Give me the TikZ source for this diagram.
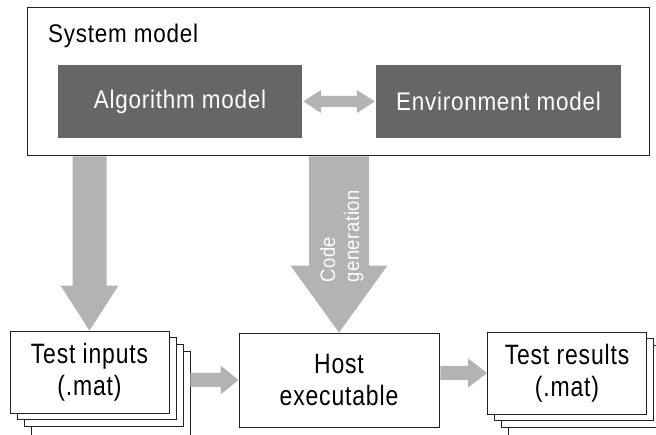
\documentclass[tikz,border=0pt]{standalone}
\usepackage{fontspec}
\setmainfont{Liberation Sans}[FakeStretch=0.88,LetterSpace=3]
\newfontfamily\tallfont{Liberation Sans}[FakeStretch=0.82,LetterSpace=3]
\usetikzlibrary{calc}
\definecolor{arrowgray}{HTML}{B3B3B3}
\definecolor{darkbox}{HTML}{666666}
\definecolor{linegray}{HTML}{222222}
\tikzset{
  arr/.style={fill=arrowgray},
  sysbox/.style={draw=linegray,line width=1pt,fill=white,minimum width=622pt,minimum height=148pt,inner sep=0pt},
  darkbox/.style={fill=darkbox,text=white,minimum width=244pt,minimum height=73pt,inner sep=0pt,font=\fontsize{25.5}{29}\selectfont},
  pagebox/.style={draw=linegray,line width=0.9pt,fill=white,minimum width=159pt,minimum height=82pt,inner sep=0pt,align=center,font=\tallfont\fontsize{28}{32}\selectfont},
  hostbox/.style={draw=linegray,line width=0.9pt,fill=white,minimum width=200pt,minimum height=94pt,inner sep=0pt,align=center,font=\tallfont\fontsize{28}{32}\selectfont},
  titletext/.style={inner sep=0pt,anchor=base west,font=\fontsize{25.5}{30}\selectfont},
  codetext/.style={inner sep=0pt,anchor=base west,rotate=90,text=white,font=\fontsize{21}{25}\selectfont}
}
% fat arrow pointing down: #1 from, #2 tip, #3 shaft half width, #4 head half width, #5 head length
\newcommand\fatdown[5]{\fill[arr] let \p1=(#1), \p2=(#2) in
  (\x2,\y2) -- (\x2-#4,\y2+#5) -- (\x2-#3,\y2+#5) -- (\x2-#3,\y1) -- (\x2+#3,\y1)
  -- (\x2+#3,\y2+#5) -- (\x2+#4,\y2+#5) -- cycle;}
% fat arrow pointing right
\newcommand\fatright[5]{\fill[arr] let \p1=(#1), \p2=(#2) in
  (\x2,\y2) -- (\x2-#5,\y2+#4) -- (\x2-#5,\y2+#3) -- (\x1,\y2+#3) -- (\x1,\y2-#3)
  -- (\x2-#5,\y2-#3) -- (\x2-#5,\y2-#4) -- cycle;}
% double-headed fat arrow
\newcommand\fatboth[5]{\fill[arr] let \p1=(#1), \p2=(#2) in
  (\x1,\y1) -- (\x1+#5,\y1+#4) -- (\x1+#5,\y1+#3) -- (\x2-#5,\y1+#3) -- (\x2-#5,\y1+#4)
  -- (\x2,\y1) -- (\x2-#5,\y1-#4) -- (\x2-#5,\y1-#3) -- (\x1+#5,\y1-#3) -- (\x1+#5,\y1-#4) -- cycle;}
\begin{document}
\begin{tikzpicture}[x=1pt,y=-1pt]
\useasboundingbox (0,0) rectangle (656,435);
\clip (0,0) rectangle (656,435);
% system model
\node[sysbox] (sys) at (338,82) {};
\node[titletext] (systitle) at (48,43) {System model};
\node[darkbox] (alg) at (180,101.5) {Algorithm model};
\node[darkbox,minimum width=245pt] (env) at (498.5,101.5) {Environment model};
\coordinate (algR) at ($(alg.east)+(1,0)$);
\coordinate (envL) at ($(env.west)+(-1,0)$);
\fatboth{algR}{envL}{5.5pt}{11.5pt}{18pt}
% test inputs stack
\node[pagebox,minimum height=100pt] (in3) at (110.5,401) {};
\node[pagebox] (in2) at (103.5,385.4) {};
\node[pagebox] (in1) at (96.5,378.7) {};
\node[pagebox] (in) at (89.5,372) {Test inputs\\(.mat)};
% test results stack
\node[pagebox,minimum height=100pt] (out3) at (588,401.5) {};
\node[pagebox] (out2) at (581,386.4) {};
\node[pagebox] (out1) at (574,379.7) {};
\node[pagebox] (out) at (567,373) {Test results\\(.mat)};
% host executable
\node[hostbox] (host) at (339,380) {Host\\executable};
% vertical arrows
\coordinate (a1s) at (sys.south -| in.north);
\fatdown{a1s}{in.north}{17pt}{29pt}{45pt}
\coordinate (a2s) at (sys.south -| host.north);
\fatdown{a2s}{host.north}{30pt}{48.5pt}{67pt}
\node[codetext] (code1) at (335,283) {Code};
\node[codetext] (code2) at (359,283) {generation};
% horizontal arrows
\coordinate (h1s) at ($(in3.east |- in.east)+(0,10)$);
\fatright{h1s}{host.west}{7pt}{14.5pt}{18pt}
\coordinate (h2s) at ($(host.east)+(1,0)$);
\fatright{h2s}{out.west}{7pt}{14.5pt}{19pt}
\end{tikzpicture}
\end{document}
